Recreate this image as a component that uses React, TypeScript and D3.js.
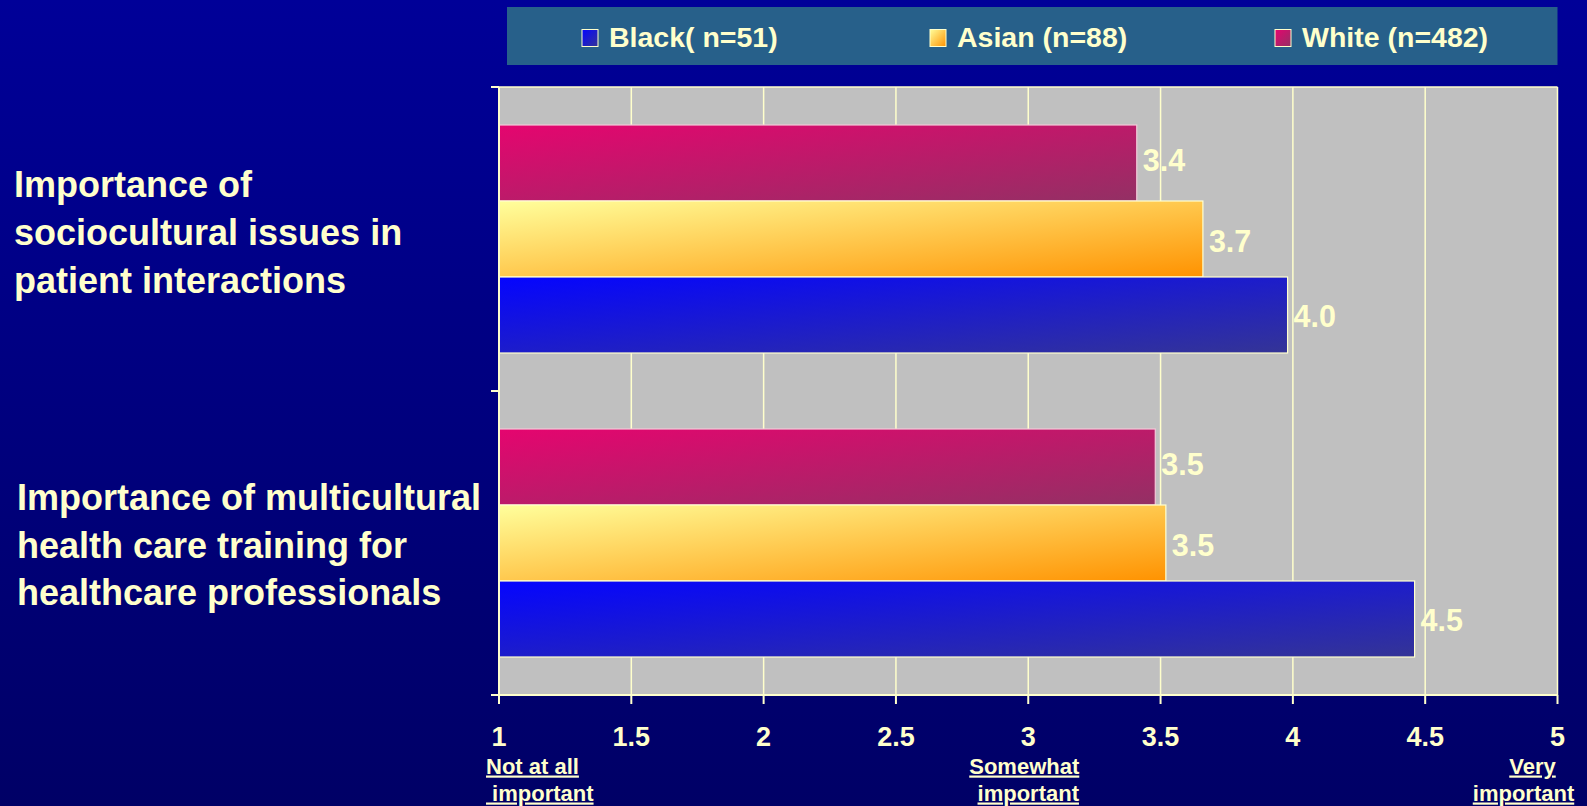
import React from "react";
import * as d3 from "d3";

const W = 1587;
const H = 806;

const categories = ["cat1", "cat2"];
const categoryLines = [
  ["Importance of", "sociocultural issues in", "patient interactions"],
  ["Importance of multicultural", "health care training for", "healthcare professionals"],
];
const seriesNames = ["White (n=482)", "Asian (n=88)", "Black( n=51)"];
const whiteValues = [3.41, 3.48];
const asianValues = [3.66, 3.52];
const blackValues = [3.98, 4.46];
const xTicks = [1, 1.5, 2, 2.5, 3, 3.5, 4, 4.5, 5];
const legendOrder = ["Black( n=51)", "Asian (n=88)", "White (n=482)"];
const anchorLabels = [
  { value: 1, lines: ["Not at all", " important"], anchor: "start", dx: [-13, -13] },
  { value: 3, lines: ["Somewhat", "important"], anchor: "middle", dx: [-4, 0] },
  { value: 5, lines: ["Very", "important"], anchor: "middle", dx: [-25, -34] },
];

const gradients: Record<string, [string, string]> = {
  "White (n=482)": ["#E5056F", "#933064"],
  "Asian (n=88)": ["#FFFF9C", "#FF9200"],
  "Black( n=51)": ["#0505FF", "#343496"],
};
const strokes: Record<string, string> = {
  "White (n=482)": "#F4C8D8",
  "Asian (n=88)": "#FFFFD0",
  "Black( n=51)": "#FFFFD0",
};
const labelDy: Record<string, number> = {
  "White (n=482)": 8,
  "Asian (n=88)": 13,
  "Black( n=51)": 12,
};

const CREAM = "#FFFFCC";
const FONT = "'Liberation Sans', Arial, Helvetica, sans-serif";

export default function App() {
  const plotLeft = 499;
  const plotRight = 1557.5;
  const plotTop = 87;
  const plotBottom = 695;

  const x = d3.scaleLinear().domain([1, 5]).range([plotLeft, plotRight]);
  const y = d3
    .scaleBand<string>()
    .domain(categories)
    .range([plotTop, plotBottom])
    .paddingInner(0.25)
    .paddingOuter(0.125);
  const ySub = d3
    .scaleBand<string>()
    .domain(seriesNames)
    .range([0, y.bandwidth()]);

  const valuesBySeries: Record<string, number[]> = {
    "White (n=482)": whiteValues,
    "Asian (n=88)": asianValues,
    "Black( n=51)": blackValues,
  };
  const fmt = d3.format(".1f");

  const step = y.step();
  const catBounds = [plotTop, plotTop + step, plotBottom];

  const labelOffsets = [
    { x: 14, dy: -42, lh: 48 },
    { x: 17, dy: -33, lh: 47.5 },
  ];

  const legendX = [582, 930, 1275];

  return (
    <svg
      width={W}
      height={H}
      style={{ position: "fixed", left: 0, top: 0, display: "block" }}
      fontFamily={FONT}
    >
      <defs>
        <linearGradient id="bg" x1="0" y1="0" x2="0" y2="1">
          <stop offset="0" stopColor="#000098" />
          <stop offset="1" stopColor="#000066" />
        </linearGradient>
        {seriesNames.map((s, i) => (
          <linearGradient key={s} id={`g${i}`} x1="0" y1="0" x2="1" y2="1">
            <stop offset="0" stopColor={gradients[s][0]} />
            <stop offset="1" stopColor={gradients[s][1]} />
          </linearGradient>
        ))}
      </defs>
      <rect x={0} y={0} width={W} height={H} fill="url(#bg)" />

      {/* legend */}
      <rect x={507} y={7} width={1050.5} height={58} fill="#27608A" />
      {legendOrder.map((s, i) => (
        <g key={s}>
          <rect
            x={legendX[i]}
            y={29.5}
            width={16}
            height={17}
            fill={`url(#g${seriesNames.indexOf(s)})`}
            stroke={CREAM}
            strokeWidth={1}
          />
          <text
            x={legendX[i] + 27}
            y={46.7}
            fill={CREAM}
            fontSize={28.5}
            fontWeight="bold"
            style={{ whiteSpace: "pre" }}
          >
            {s}
          </text>
        </g>
      ))}

      {/* plot area */}
      <rect
        x={plotLeft}
        y={plotTop}
        width={plotRight - plotLeft}
        height={plotBottom - plotTop}
        fill="#C0C0C0"
      />
      {xTicks.slice(1).map((t) => (
        <line
          key={t}
          x1={x(t)}
          x2={x(t)}
          y1={plotTop}
          y2={plotBottom}
          stroke={CREAM}
          strokeWidth={1.5}
        />
      ))}
      <line
        x1={plotLeft}
        x2={plotRight}
        y1={plotTop}
        y2={plotTop}
        stroke={CREAM}
        strokeWidth={1.5}
      />

      {/* bars */}
      {categories.map((c, ci) =>
        seriesNames.map((s, si) => {
          const v = valuesBySeries[s][ci];
          const y0 = (y(c) as number) + (ySub(s) as number);
          const bh = ySub.bandwidth();
          return (
            <g key={c + s}>
              <rect
                x={x(1)}
                y={y0}
                width={x(v) - x(1)}
                height={bh}
                fill={`url(#g${si})`}
                stroke={strokes[s]}
                strokeWidth={1.2}
              />
              <text
                x={x(v) + 6}
                y={y0 + bh / 2 + labelDy[s]}
                fill={CREAM}
                fontSize={30.5}
                fontWeight="bold"
              >
                {fmt(v)}
              </text>
            </g>
          );
        })
      )}

      {/* axes */}
      <line
        x1={plotLeft}
        x2={plotLeft}
        y1={plotTop}
        y2={plotBottom + 9}
        stroke={CREAM}
        strokeWidth={2}
      />
      {catBounds.map((b, i) => (
        <line
          key={i}
          x1={plotLeft - 8}
          x2={plotLeft}
          y1={b}
          y2={b}
          stroke={CREAM}
          strokeWidth={2}
        />
      ))}
      <line
        x1={plotLeft - 8}
        x2={plotRight}
        y1={plotBottom}
        y2={plotBottom}
        stroke={CREAM}
        strokeWidth={2}
      />
      {xTicks.map((t) => (
        <g key={t}>
          <line
            x1={x(t)}
            x2={x(t)}
            y1={plotBottom}
            y2={plotBottom + 9}
            stroke={CREAM}
            strokeWidth={2}
          />
          <text
            x={x(t)}
            y={745.5}
            fill={CREAM}
            fontSize={27}
            fontWeight="bold"
            textAnchor="middle"
          >
            {String(t)}
          </text>
        </g>
      ))}

      {/* scale anchor labels */}
      {anchorLabels.map((a, i) =>
        a.lines.map((ln, li) => (
          <text
            key={`${i}-${li}`}
            x={x(a.value) + a.dx[li]}
            y={773.5 + li * 27}
            fill={CREAM}
            fontSize={22}
            fontWeight="bold"
            textAnchor={a.anchor as any}
            textDecoration="underline"
            style={{ whiteSpace: "pre", textDecoration: "underline" }}
          >
            {ln}
          </text>
        ))
      )}

      {/* category labels */}
      {categories.map((c, ci) => {
        const cy = (y(c) as number) + y.bandwidth() / 2;
        const o = labelOffsets[ci];
        return (
          <text
            key={c}
            x={o.x}
            y={cy + o.dy}
            fill={CREAM}
            fontSize={36}
            fontWeight="bold"
          >
            {categoryLines[ci].map((ln, li) => (
              <tspan key={li} x={o.x} y={cy + o.dy + li * o.lh}>
                {ln}
              </tspan>
            ))}
          </text>
        );
      })}
    </svg>
  );
}
